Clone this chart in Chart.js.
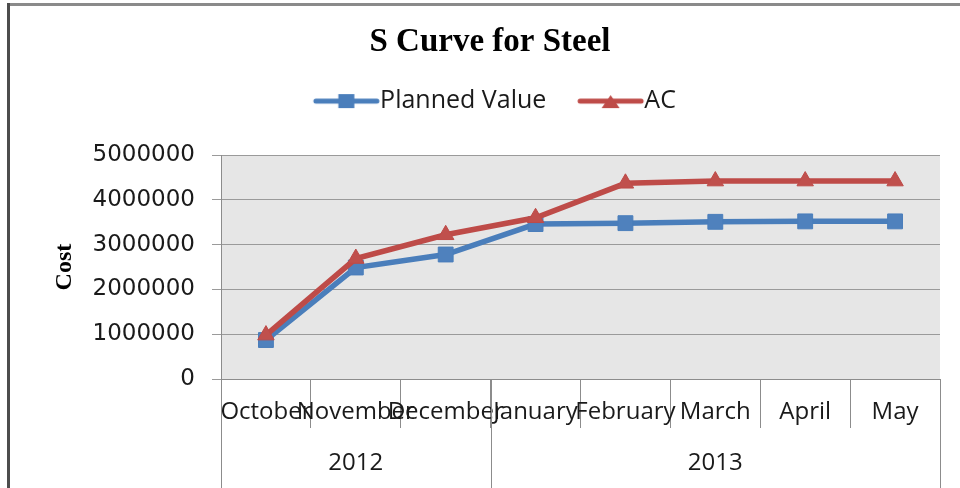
<!DOCTYPE html>
<html><head><meta charset="utf-8">
<script src="https://cdn.jsdelivr.net/npm/chart.js@4/dist/chart.umd.min.js"></script>
<style>html,body{margin:0;padding:0;overflow:hidden;background:#fff;width:960px;height:488px}canvas{display:block}</style>
</head><body>
<canvas id="c" width="980" height="488"></canvas>
<script>
const months = ['October','November','December','January','February','March','April','May'];
const monthYears = ['2012','2012','2012','2013','2013','2013','2013','2013'];
const plannedValue = [870000, 2490000, 2780000, 3460000, 3480000, 3510000, 3520000, 3520000];
const actualCost = [980000, 2690000, 3220000, 3600000, 4370000, 4420000, 4420000, 4420000];
const seriesNames = ['Planned Value', 'AC'];
const yTicks = [0, 1000000, 2000000, 3000000, 4000000, 5000000];

const BLUE = '#4a7ebb', BLUE_FILL = '#4f81bd', RED = '#be4b48', RED_FILL = '#c0504d';
const TXT = '#1a1a1a', GRID = '#9a9a9a';

// legend marker: line with marker, drawn shifted inside a wider transparent canvas
function legendMarker(color, shape) {
  const c = document.createElement('canvas');
  c.width = 100; c.height = 24;
  const g = c.getContext('2d');
  const x0 = 30, x1 = 91, cx = (x0 + x1) / 2, cy = 12;
  g.strokeStyle = color; g.lineWidth = 5; g.lineCap = 'round';
  g.beginPath(); g.moveTo(x0, cy); g.lineTo(x1, cy); g.stroke();
  g.fillStyle = color;
  if (shape === 'rect') { g.fillRect(cx - 8, cy - 7, 16, 14); }
  else { g.beginPath(); g.moveTo(cx, cy - 6); g.lineTo(cx + 9, cy + 7); g.lineTo(cx - 9, cy + 7); g.closePath(); g.fill(); }
  return c;
}
const markers = [legendMarker(BLUE, 'rect'), legendMarker(RED, 'triangle')];

const decor = {
  id: 'decor',
  beforeDraw(chart) {
    const {ctx, chartArea: a} = chart;
    ctx.save();
    ctx.fillStyle = '#e6e6e6';
    ctx.fillRect(a.left, a.top, a.right - a.left, a.bottom - a.top);
    ctx.fillStyle = '#8a8a8a'; ctx.fillRect(7, 3, chart.width, 3);
    ctx.fillStyle = '#4d4d4d'; ctx.fillRect(7, 3, 3, chart.height);
    ctx.restore();
  },
  afterDraw(chart) {
    const x = chart.scales.x, ctx = chart.ctx;
    const step = x.getPixelForValue(1) - x.getPixelForValue(0);
    const groups = [];
    monthYears.forEach((yr, i) => {
      const g = groups[groups.length - 1];
      if (g && g.year === yr) g.end = i; else groups.push({year: yr, start: i, end: i});
    });
    ctx.save();
    ctx.strokeStyle = '#8c8c8c'; ctx.lineWidth = 1;
    ctx.fillStyle = TXT; ctx.font = '24px "Open Sans"';
    ctx.textAlign = 'center'; ctx.textBaseline = 'middle';
    groups.forEach(g => {
      const l = x.getPixelForValue(g.start) - step / 2, r = x.getPixelForValue(g.end) + step / 2;
      [l, r].forEach(px => {
        ctx.beginPath(); ctx.moveTo(Math.round(px) + 0.5, x.top); ctx.lineTo(Math.round(px) + 0.5, chart.height); ctx.stroke();
      });
      ctx.fillText(g.year, (l + r) / 2, x.top + 84);
    });
    ctx.restore();
  }
};

new Chart(document.getElementById('c'), {
  type: 'line',
  data: {
    labels: months,
    datasets: [
      { label: seriesNames[0], data: plannedValue, xAxisID: 'x', yAxisID: 'y', order: 1,
        borderColor: BLUE, backgroundColor: BLUE_FILL, borderWidth: 5.5,
        pointStyle: 'rect', pointRadius: 10.5, pointBackgroundColor: BLUE_FILL, pointBorderColor: BLUE, pointBorderWidth: 1, tension: 0 },
      { label: seriesNames[1], data: actualCost, xAxisID: 'x', yAxisID: 'y', order: 0,
        borderColor: RED, backgroundColor: RED_FILL, borderWidth: 5.5,
        pointStyle: 'triangle', pointRadius: 9.5, pointBackgroundColor: RED_FILL, pointBorderColor: RED, pointBorderWidth: 1, tension: 0 }
    ]
  },
  options: {
    responsive: false, animation: false, devicePixelRatio: 1,
    layout: { padding: 0 },
    plugins: {
      tooltip: { enabled: false },
      title: { display: true, text: 'S Curve for Steel', color: '#000',
        font: { family: '"Liberation Serif", "Times New Roman", serif', size: 33, weight: 'bold' },
        padding: { top: 23, bottom: 4 } },
      legend: { display: true, position: 'top', align: 'center',
        labels: {
          usePointStyle: true, pointStyleWidth: 63.5, padding: 22, color: TXT,
          font: { family: '"Open Sans"', size: 25 },
          generateLabels: () => seriesNames.map((n, i) => ({
            text: n, pointStyle: markers[i], datasetIndex: i, hidden: false, lineWidth: 0,
            fillStyle: i ? RED : BLUE, strokeStyle: i ? RED : BLUE, fontColor: TXT
          }))
        } }
    },
    scales: {
      x: { type: 'category', position: 'bottom', offset: true,
        afterFit: s => { s.height = 109; },
        grid: { display: true, drawOnChartArea: false, drawTicks: true, tickLength: 49, offset: true, color: '#8c8c8c' },
        border: { display: true, color: '#8c8c8c' },
        ticks: { autoSkip: false, maxRotation: 0, minRotation: 0, padding: -30, color: TXT,
          font: { family: '"Open Sans"', size: 24 } } },
      xTop: { type: 'category', position: 'top', display: true,
        afterFit: s => { s.height = 31.5; },
        grid: { display: false }, border: { display: false }, ticks: { display: false } },
      y: { type: 'linear', position: 'left', min: 0, max: 5000000,
        afterFit: s => { s.width = 221; },
        afterBuildTicks: s => { s.ticks = yTicks.map(v => ({ value: v })); },
        grid: { color: GRID, tickLength: 9, drawTicks: true },
        border: { display: true, color: '#8c8c8c' },
        ticks: { padding: 17, color: TXT, font: { family: '"DejaVu Sans"', size: 23 },
          callback: v => String(v) },
        title: { display: true, text: 'Cost', color: '#000', padding: { top: 50, bottom: 0 },
          font: { family: '"Liberation Serif", "Times New Roman", serif', size: 24, weight: 'bold' } } },
      yR: { type: 'linear', position: 'right', display: true,
        afterFit: s => { s.width = 40; },
        grid: { display: false }, border: { display: false }, ticks: { display: false } }
    }
  },
  plugins: [decor]
});
</script>
</body></html>
